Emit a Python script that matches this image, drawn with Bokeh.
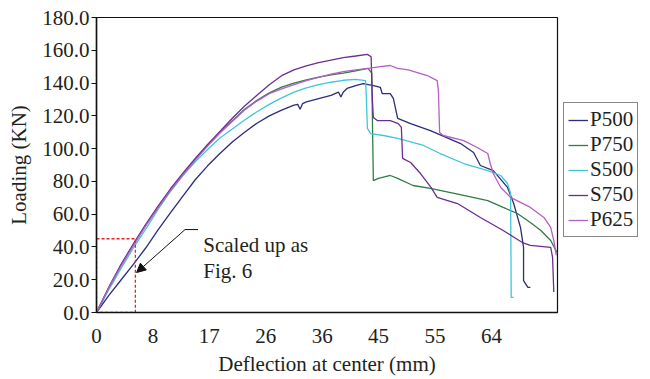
from bokeh.plotting import figure
from bokeh.models import (Range1d, FixedTicker, Legend, LegendItem, Arrow, NormalHead,
                          Label)
from bokeh.layouts import row
from bokeh.embed import file_html
from bokeh.resources import INLINE

# ---------------- data ----------------
series_names = ["P500", "P750", "S500", "S750", "P625"]
series_colors = ["#2B2C7C", "#2E7D46", "#3EC6DA", "#6B2E8E", "#B55FC5"]

p500_x = [0, 2, 4, 6, 8, 10, 12, 14, 16, 18, 20, 22, 24, 26, 28, 30, 32, 32.6, 33.0, 33.4, 34, 36,
          38, 39.2, 39.6, 40.0, 40.6, 42, 43.2, 44.9, 46.0, 46.3, 47.6, 48.1, 48.8, 50.9, 54.1, 59.0,
          61.1, 62.2, 64.3, 66.6, 67.6, 68.7, 69.2, 69.2, 69.9, 70.3]
p500_y = [0, 10.5, 20, 29.5, 39.5, 50.5, 61, 71, 81, 89.5, 97, 104, 110, 115.5, 120, 123.5, 126.5, 127, 124, 127.5, 128.5, 130.5,
          132.5, 134.5, 131.5, 134.5, 136.7, 138.5, 139.7, 138.5, 137.3, 133.6, 133.6, 130.6, 118.4, 115.3, 111.0, 103.1,
          97.6, 89.7, 86.6, 76.3, 66.5, 51.9, 39.7, 19.5, 15.3, 15.3]

p750_x = [0, 2, 4, 6, 8, 10, 12, 14, 16, 18, 20, 22, 24, 26, 28, 30, 32, 34, 36, 38, 40, 42,
          44.0, 44.6, 44.86, 45.7, 47.6, 48.8, 51.3, 54.1, 59.5, 63.4, 65.9, 68.2, 70.3, 72.0,
          73.6, 74.7]
p750_y = [0, 15, 29, 41.5, 53.5, 64.5, 75, 84.5, 93.5, 102, 110, 117, 124, 129.5, 134, 137.5, 140, 142, 143.6, 145, 146, 147.5,
          149, 146, 80.5, 81.8, 83.6, 81.8, 77.5, 75.7, 71.4, 68.3, 64.1, 60.4, 54.9, 50.0,
          43.9, 36.0]

s500_x = [0, 2, 4, 6, 8, 10, 12, 14, 16, 18, 20, 22, 24, 26, 28, 30, 32, 34, 36, 38, 40, 42,
          43.6, 43.7, 43.9, 44.4, 46.5, 48.8, 53.0, 55.7, 59.5, 63.4, 65.5, 66.6, 67.1, 67.2, 67.6]
s500_y = [0, 14, 27, 39.5, 51, 63, 74, 83.5, 92, 99.5, 106.5, 112, 117.5, 122.5, 127, 131, 134.5, 137, 139, 140.5, 141.7, 142.2,
          141.5, 133.6, 112.3, 109.2, 108.0, 106.2, 101.9, 97.0, 90.9, 86.6, 83.6, 78.7, 72.6, 9.2, 9.2]

s750_x = [0, 2, 4, 6, 8, 10, 12, 14, 16, 18, 20, 22, 24, 26, 28, 30, 32, 34, 36, 38, 40, 42,
          43.9, 44.5, 44.7, 44.86, 45.5, 47.6, 48.9, 49.4, 49.6, 50.9, 52.5, 54.2, 55.2,
          58.5, 62.2, 65.9, 69.0, 70.3, 73.6, 73.9, 74.1]
s750_y = [0, 15.5, 29.5, 42, 54, 65, 75.5, 85, 94, 102.5, 110.5, 118.5, 126, 132.5, 139, 144.5, 148, 150.5, 152.5, 154, 155.5, 156.5,
          157.5, 156, 130, 119, 117.1, 117.1, 115.3, 112.9, 94.0, 91.5, 84.8, 76.3, 70.2,
          66.5, 58.0, 50.0, 42.7, 40.9, 39.7, 33.6, 12.5]

p625_x = [0, 2, 4, 6, 8, 10, 12, 14, 16, 18, 20, 22, 24, 26, 28, 30, 32, 34, 36, 38, 40, 42,
          44, 46, 47.6, 48.8, 50.5, 52.0, 53.6, 55.2, 55.4, 55.6, 56.2, 59.5, 61.7, 63.4, 63.8, 64.3, 65.5,
          67.1, 70.3, 72.5, 73.6, 74.1, 74.5]
p625_y = [0, 15, 28.5, 41, 53, 64, 74.5, 84, 93, 101.5, 109.5, 116.5, 123.5, 129, 133.5, 136.5, 139, 141.5, 143.5, 145.5, 147, 148,
          149, 150, 150.7, 148.9, 148.0, 146.4, 144.6, 141.5, 135.4, 109.8, 108.0, 104.9, 100.7, 97.0, 90.9, 84.8, 76.3,
          70.2, 64.1, 58.0, 51.9, 43.9, 34.8]

series_x = [p500_x, p750_x, s500_x, s750_x, p625_x]
series_y = [p500_y, p750_y, s500_y, s750_y, p625_y]

# evenly spaced ticks with the printed labels
x_tick_labels = ["0", "8", "17", "26", "36", "45", "55", "64"]
x_tick_step = 64 / 7
y_ticks = [0, 20, 40, 60, 80, 100, 120, 140, 160, 180]

# annotation: zoom box and arrow
zoom_box = dict(x0=0.0, x1=6.3, y0=0.0, y1=45.0)
note_lines = ["Scaled up as", "Fig. 6"]

FONT = "Liberation Serif"
TXT = "#231F20"

p = figure(frame_width=461, frame_height=295, output_backend="svg", toolbar_location=None,
           x_range=Range1d(0, 74.7), y_range=Range1d(0, 180),
           min_border_left=96, min_border_top=17, min_border_bottom=67, min_border_right=2)
p.background_fill_color = "white"
p.border_fill_color = "white"
p.outline_line_color = "#111111"
p.outline_line_width = 1.2
p.xgrid.visible = False
p.ygrid.visible = False

for xs, ys, c in zip(series_x, series_y, series_colors):
    p.line(xs, ys, line_color=c, line_width=1.3)

# axes
xt = [i * x_tick_step for i in range(len(x_tick_labels))]
p.xaxis.ticker = FixedTicker(ticks=xt)
p.xaxis.major_label_overrides = {t: l for t, l in zip(xt, x_tick_labels)}
p.yaxis.ticker = FixedTicker(ticks=y_ticks)
p.yaxis.major_label_overrides = {t: f"{t:.1f}" for t in y_ticks}
for ax in (p.xaxis[0], p.yaxis[0]):
    ax.axis_line_color = "#111111"
    ax.axis_line_width = 1.5
    ax.minor_tick_line_color = None
    ax.major_label_text_font = FONT
    ax.major_label_text_font_size = "21px"
    ax.major_label_text_color = TXT
    ax.axis_label_text_font = FONT
    ax.axis_label_text_font_size = "21px"
    ax.axis_label_text_color = TXT
    ax.axis_label_text_font_style = "normal"
p.xaxis.major_tick_line_color = None
p.xaxis.major_label_standoff = 10
p.xaxis.axis_label = "Deflection at center (mm)"
p.xaxis.axis_label_standoff = 6
p.yaxis.major_tick_in = 0
p.yaxis.major_tick_out = 5
p.yaxis.major_tick_line_color = "#111111"
p.yaxis.major_label_standoff = 2
p.yaxis.axis_label = "Loading (KN)"
p.yaxis.axis_label_standoff = 8

# zoom box
p.quad(left=zoom_box["x0"], right=zoom_box["x1"], bottom=zoom_box["y0"], top=zoom_box["y1"],
       fill_color=None, line_color="#E8202A", line_width=1.3, line_dash="3 2")

# arrow + leader
p.line([14.35, 16.45], [50.6, 50.6], line_color="#111111", line_width=1)
p.add_layout(Arrow(end=NormalHead(size=9, fill_color="#111111", line_color="#111111"),
                   x_start=14.35, y_start=50.6, x_end=6.5, y_end=24.4,
                   line_color="#111111", line_width=1))
p.add_layout(Label(x=17.3, y=40.9, text=note_lines[0], text_font=FONT, text_font_size="21px",
                   text_color=TXT, text_baseline="alphabetic"))
p.add_layout(Label(x=17.3, y=25.6, text=note_lines[1], text_font=FONT, text_font_size="21px",
                   text_color=TXT, text_baseline="alphabetic"))

# legend in its own narrow figure to the right of the plot (series drawn out of view)
lf = figure(width=89, height=379, output_backend="svg", toolbar_location=None,
            x_range=Range1d(-20, -10), y_range=Range1d(-20, -10), min_border=0,
            x_axis_location=None, y_axis_location=None)
lf.grid.visible = False
lf.outline_line_color = None
lf.background_fill_color = "white"
lf.border_fill_color = "white"
items = []
for n, xs, ys, c in zip(series_names, series_x, series_y, series_colors):
    r = lf.line(xs, ys, line_color=c, line_width=1.3)
    items.append(LegendItem(label=n, renderers=[r]))
legend = Legend(items=items, location=(4, 75), orientation="vertical")
legend.label_text_font = FONT
legend.label_text_font_size = "21px"
legend.label_text_color = TXT
legend.label_standoff = 2
legend.glyph_width = 20
legend.glyph_height = 22
legend.label_height = 22
legend.spacing = 0
legend.padding = 4
legend.margin = 0
legend.border_line_color = "#111111"
legend.border_line_width = 1.2
legend.background_fill_alpha = 1
lf.add_layout(legend)

layout = row(p, lf, spacing=0)
open("out.html", "w").write(file_html(layout, INLINE))
